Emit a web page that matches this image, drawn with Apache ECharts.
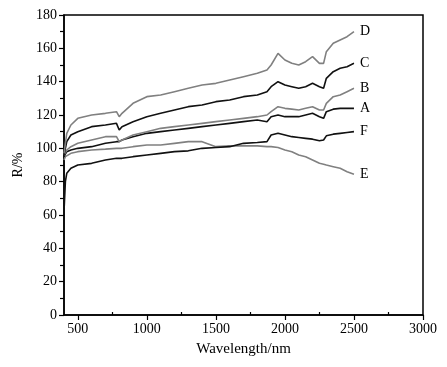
<!DOCTYPE html>
<html><head><meta charset="utf-8">
<script src="https://cdn.jsdelivr.net/npm/echarts@6/dist/echarts.min.js"></script>
<style>html,body{margin:0;padding:0;background:#fff}#c{width:447px;height:367px}</style>
</head><body><div id="c"></div>
<script>
const wavelength = [400,410,420,450,500,600,700,780,800,820,900,1000,1100,1200,1300,1400,1500,1600,1700,1800,1870,1900,1950,2000,2050,2100,2150,2200,2250,2280,2300,2350,2400,2450,2500];
const seriesD = [97,103,109,114,118,120,121,122,119,121,127,131,132,134,136,138,139,141,143,145,147,150,157,153,151,150,152,155,151,151,158,163,165,167,170];
const seriesC = [96,100,104,108,110,113,114,115,111,113,116,119,121,123,125,126,128,129,131,132,134,137,140,138,137,136,137,139,137,136,142,146,148,149,151];
const seriesB = [96,97,99,101,103,105,107,107,104,105,108,110,112,113,114,115,116,117,118,119,120,122,125,124,123.5,123,124,125,123,123,127,131,132,134,136];
const seriesA = [95,96,98,99,100,101,103,104,104,105,107,109,110,111,112,113,114,115,116,117,116,119,120,119,119,119,120,121,119,118,122,123.5,124,124,124];
const seriesE = [93,95,96,97,98,99,99.5,100,100,100,101,102,102,103,104,104,101,101.5,101.5,101.5,101,101,100.5,99,98,96,95,93,91,90.5,90,89,88,86,84.5];
const seriesF = [62,80,85,88,90,91,93,94,94,94,95,96,97,98,98.5,100,100.5,101,103,103.5,104,108,109,108,107,106.5,106,105.5,104.5,105,107.5,108.5,109,109.5,110];
const xMajorTicks = [500,1000,1500,2000,2500,3000];
const xMinorTicks = [750,1250,1750,2250,2750];

const font = '"Liberation Serif", "DejaVu Serif", serif';
const gray = '#808080', black = '#111';
function mk(name, vals, color){
  return {
    name, type:'line', xAxisIndex:0, yAxisIndex:0, showSymbol:false, symbol:'none',
    data: wavelength.map((w,i)=>[w, vals[i]]),
    lineStyle:{color, width:1.6}, itemStyle:{color},
    endLabel:{show:true, formatter:name, color:'#000', fontFamily:font, fontSize:14, distance:6},
    animation:false
  };
}
const chart = echarts.init(document.getElementById('c'));
chart.setOption({
  animation:false,
  grid:{left:64, right:24, top:15, bottom:52, show:true, borderColor:'#000', borderWidth:1.5, backgroundColor:'transparent'},
  xAxis:[{
    type:'value', min:400, max:3000, position:'bottom',
    name:'Wavelength/nm', nameLocation:'middle', nameGap:27,
    nameTextStyle:{fontFamily:font, fontSize:15, color:'#000'},
    axisLine:{lineStyle:{color:'#000', width:1.5}},
    axisTick:{customValues:xMajorTicks, length:5, lineStyle:{color:'#000', width:1.2}},
    axisLabel:{customValues:xMajorTicks, formatter:v=>String(v), fontFamily:font, fontSize:14, color:'#000', margin:7},
    splitLine:{show:false}
  },{
    type:'value', min:400, max:3000, position:'bottom',
    axisLine:{show:false},
    axisTick:{customValues:xMinorTicks, inside:true, length:3, lineStyle:{color:'#000', width:1.2}},
    axisLabel:{show:false}, splitLine:{show:false}
  }],
  yAxis:{
    type:'value', min:0, max:180, interval:20,
    name:'R/%', nameLocation:'middle', nameGap:36, nameRotate:90,
    nameTextStyle:{fontFamily:font, fontSize:14, color:'#000'},
    axisLine:{show:true, lineStyle:{color:'#000', width:1.5}},
    axisTick:{length:5, lineStyle:{color:'#000', width:1.2}},
    minorTick:{show:true, splitNumber:2, length:4, lineStyle:{color:'#000', width:1.2}},
    axisLabel:{fontFamily:font, fontSize:14, color:'#000', margin:7},
    splitLine:{show:false}, minorSplitLine:{show:false}
  },
  series:[
    mk('E', seriesE, gray),
    mk('F', seriesF, black),
    mk('A', seriesA, black),
    mk('B', seriesB, gray),
    mk('C', seriesC, black),
    mk('D', seriesD, gray)
  ]
});
</script></body></html>
